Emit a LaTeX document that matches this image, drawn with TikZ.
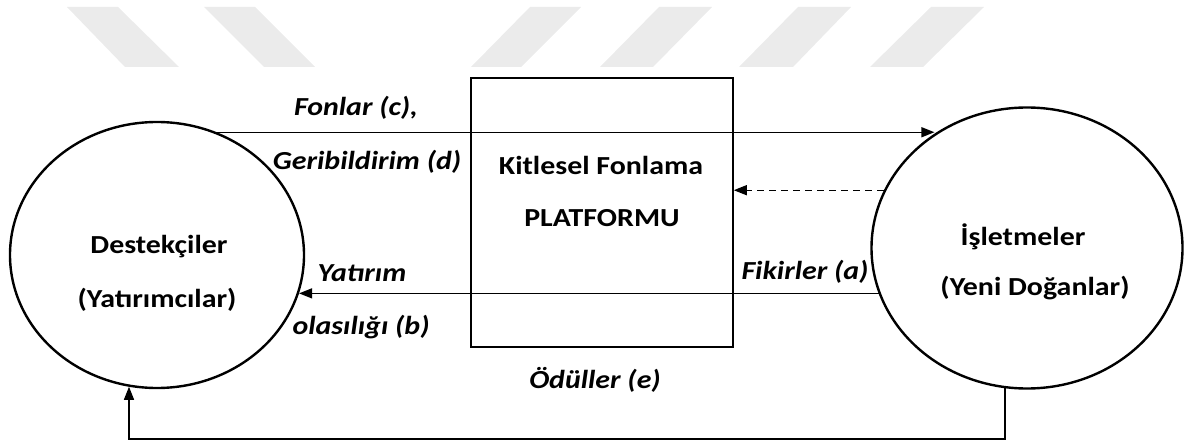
\documentclass[tikz,border=0pt]{standalone}
\usepackage{fontspec}
\setmainfont{Carlito}[FakeStretch=1.15]
\usetikzlibrary{arrows.meta,shapes.geometric}
\tikzset{
  party/.style={draw, line width=2.4pt, ellipse, inner sep=0pt},
  platform/.style={draw, line width=1.6pt, rectangle, inner sep=0pt},
  flow/.style={line width=1.4pt, -{Triangle[length=13pt,width=10pt]}},
  title/.style={font=\fontsize{26}{28}\selectfont\bfseries, inner sep=0pt, anchor=center},
  flowlabel/.style={font=\fontsize{26}{28}\selectfont\bfseries\itshape, inner sep=0pt, anchor=center},
  stripe/.style={fill=black!8, draw=none}
}
\begin{document}
\begin{tikzpicture}[x=1pt,y=-1pt]
  \useasboundingbox (0,0) rectangle (1185,446);
  % light diagonal bands along the top edge
  \fill[stripe] (67,7) -- (118,7) -- (179,67) -- (125,67) -- cycle;
  \fill[stripe] (204,7) -- (255,7) -- (315,67) -- (264,67) -- cycle;
  \fill[stripe] (530,7) -- (581,7) -- (521,67) -- (471,67) -- cycle;
  \fill[stripe] (659,7) -- (712,7) -- (653,67) -- (600,67) -- cycle;
  \fill[stripe] (798,7) -- (851,7) -- (793,67) -- (739,67) -- cycle;
  \fill[stripe] (931,7) -- (984,7) -- (923,67) -- (870,67) -- cycle;

  % the three parties
  \node[party, minimum width=294pt, minimum height=266pt] (L) at (157,255) {};
  \node[party, minimum width=311pt, minimum height=281pt] (R) at (1027,248) {};
  \node[platform, minimum width=262pt, minimum height=269pt] (B) at (602,212.5) {};

  % texts inside the shapes
  \node[title] (l1) at (159,247) {Destekçiler};
  \node[title] (l2) at (157,300) {(Yatırımcılar)};
  \node[title] (b1) at (601,165) {Kitlesel Fonlama};
  \node[title] (b2) at (602,218) {PLATFORMU};
  \node[title] (r1) at (1023,237) {İşletmeler};
  \node[title] (r2) at (1035,288) {(Yeni Doğanlar)};

  % flows between the parties
  \coordinate (base) at (0,439);
  \draw[flow] (L.64) -- (L.64 -| R.129);
  \draw[flow] (R.197) -- (R.197 -| L.345);
  \draw[flow, dashed, dash pattern=on 7pt off 5pt] (R.158) -- (R.158 -| B.east);
  \draw[flow] (R.261) -- (R.261 |- base) -| (L.258);

  % flow labels
  \node[flowlabel] (fc) at (356,108) {Fonlar (c),};
  \node[flowlabel] (gd) at (367,162) {Geribildirim (d)};
  \node[flowlabel] (yb1) at (362,273) {Yatırım};
  \node[flowlabel] (yb2) at (361,327) {olasılığı (b)};
  \node[flowlabel] (fa) at (805,272) {Fikirler (a)};
  \node[flowlabel] (oe) at (595,380) {Ödüller (e)};
\end{tikzpicture}
\end{document}
